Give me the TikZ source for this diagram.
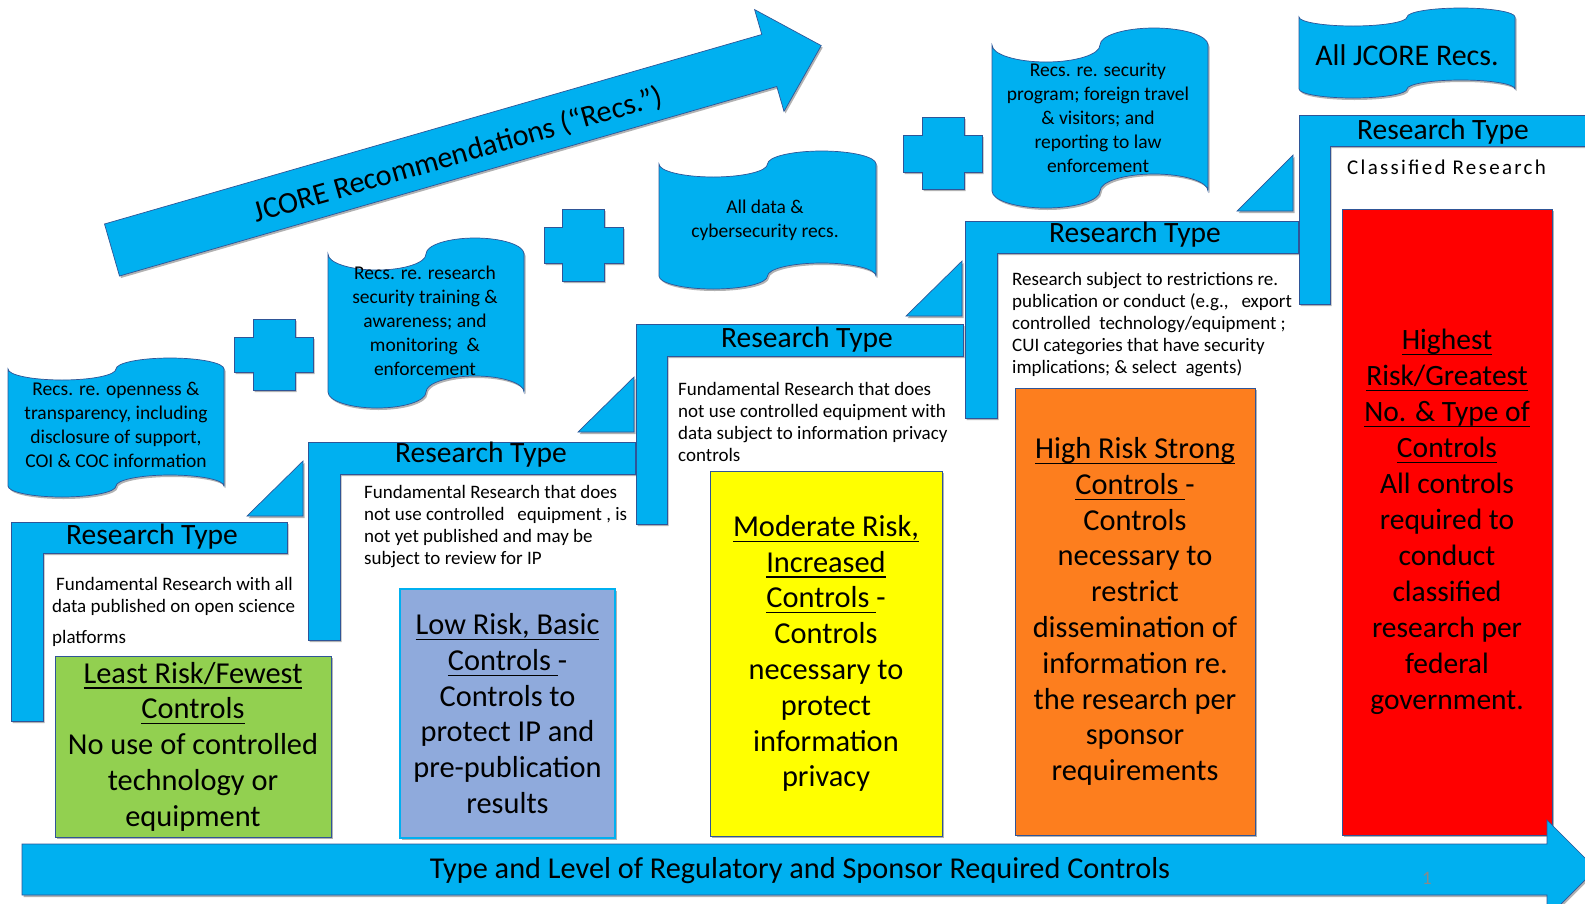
\documentclass[tikz,border=0pt]{standalone}
\usepackage{fontspec}
\setmainfont{Carlito}
\usetikzlibrary{shadows}
\definecolor{jblue}{RGB}{0,176,240}
\definecolor{jedge}{RGB}{47,85,151}
\definecolor{jgreen}{RGB}{146,208,80}
\definecolor{jlav}{RGB}{143,170,220}
\definecolor{jyellow}{RGB}{255,255,0}
\definecolor{jorange}{RGB}{253,126,30}
\definecolor{jred}{RGB}{255,0,0}
\definecolor{jgray}{RGB}{137,137,137}
\newcommand{\fbig}{\fontsize{29.5}{36}\selectfont}
\newcommand{\fcbox}{\fontsize{30.4}{35.8}\selectfont}
\newcommand{\fdesc}{\fontsize{19}{22}\selectfont}
\newcommand{\fscroll}{\fontsize{19.5}{24}\selectfont}
\newsavebox{\julbox}
\newcommand{\jul}[1]{\sbox{\julbox}{#1}\rlap{\rule[-5.5pt]{\wd\julbox}{1.2pt}}\usebox{\julbox}}
\tikzset{
  bshape/.style={fill=jblue, draw=jedge, line width=0.7pt,
    drop shadow={shadow xshift=1.5pt, shadow yshift=-2pt, opacity=0.3, fill=black}},
  cbox/.style={draw=jedge, line width=0.8pt, align=center, font=\fcbox, inner sep=0pt,
    drop shadow={shadow xshift=1.5pt, shadow yshift=-2pt, opacity=0.3, fill=black}},
  rtype/.style={font=\fbig, anchor=base, inner sep=0pt},
  desc/.style={font=\fdesc, align=left, anchor=base west, inner sep=0pt},
  scrolltext/.style={font=\fscroll, align=center, inner sep=0pt},
}
\newcommand{\jtape}[5]{%
  \draw[bshape] (#1,#2) arc[start angle=180,end angle=0,x radius={(#3-#1)/4},y radius=#5]
    arc[start angle=180,end angle=360,x radius={(#3-#1)/4},y radius=#5]
    -- (#3,#4) arc[start angle=360,end angle=180,x radius={(#3-#1)/4},y radius=#5]
    arc[start angle=0,end angle=180,x radius={(#3-#1)/4},y radius=#5] -- cycle;}
\newcommand{\jplus}[8]{%
  \draw[bshape] (#2,#5) -- (#3,#5) -- (#3,#6) -- (#4,#6) -- (#4,#7) -- (#3,#7) -- (#3,#8)
    -- (#2,#8) -- (#2,#7) -- (#1,#7) -- (#1,#6) -- (#2,#6) -- cycle;}
\begin{document}
\begin{tikzpicture}[x=1pt,y=-1pt]
\useasboundingbox (0,0) rectangle (1585,903);
\fill[white] (0,0) rectangle (1585,903);
\begin{scope}
\clip (0,0) rectangle (1585,903);
% JCORE arrow
\draw[bshape] (104.5,224) -- (761.8,34.5) -- (754.6,9.6) -- (821.2,45.6) -- (784,111.4)
  -- (776.8,86.5) -- (119.5,276) -- cycle;
\node[font=\fontsize{30.2}{36}\selectfont, rotate=16.05, inner sep=0pt] (jcore) at (458,155)
  {JCORE Recommendations (“Recs.”)};
% scrolls
\jtape{8}{369}{224}{486}{11}
\jtape{328}{254}{524}{392}{16}
\jtape{659}{164}{876}{276}{13}
\jtape{992}{45}{1208}{191}{17}
\jtape{1299}{17}{1515}{89}{9}
\node[scrolltext] (s1) at (116,425) {Recs. re. openness \&\\ transparency, including\\ disclosure of support,\\ COI \& COC information};
\node[scrolltext] (s2) at (425,321) {Recs. re. research\\ security training \&\\ awareness; and\\ monitoring\ \ \&\\ enforcement};
\node[scrolltext] (s3) at (765,220) {All data \&\\ cybersecurity recs.};
\node[scrolltext] (s4) at (1098,118) {Recs. re. security\\ program; foreign travel\\ \& visitors; and\\ reporting to law\\ enforcement};
\node[font=\fontsize{30}{36}\selectfont, inner sep=0pt] (s5) at (1407,55) {All JCORE Recs.};
% plus signs
\jplus{234}{253}{295}{313}{319}{337}{372}{390}
\jplus{544}{562}{604}{623}{209}{227}{263}{281}
\jplus{903}{922}{964}{982}{117}{135}{172}{189}
% steps
\draw[bshape] (11,522) -- (287,522) -- (287,553) -- (43,553) -- (43,721) -- (11,721) -- cycle;
\draw[bshape] (308,442) -- (635,442) -- (635,474) -- (340,474) -- (340,640) -- (308,640) -- cycle;
\draw[bshape] (636,324) -- (963,324) -- (963,356) -- (667,356) -- (667,524) -- (636,524) -- cycle;
\draw[bshape] (965,221) -- (1298,221) -- (1298,253) -- (997,253) -- (997,418) -- (965,418) -- cycle;
\draw[bshape] (1299,115) -- (1595,115) -- (1595,146) -- (1330,146) -- (1330,304) -- (1299,304) -- cycle;
% triangles
\draw[bshape] (303,461) -- (303,516) -- (247,516) -- cycle;
\draw[bshape] (634,377) -- (634,432) -- (578,432) -- cycle;
\draw[bshape] (962,261) -- (962,316) -- (906,316) -- cycle;
\draw[bshape] (1293,155) -- (1293,211) -- (1237,211) -- cycle;
% research type labels
\node[rtype] (rt1) at (152,544) {Research Type};
\node[rtype] (rt2) at (481,462) {Research Type};
\node[rtype] (rt3) at (807,347) {Research Type};
\node[rtype] (rt4) at (1135,242) {Research Type};
\node[rtype] (rt5) at (1443,139) {Research Type};
% descriptions (anchored at the baseline of their last line)
\node[desc] (d1) at (52,643) {\hspace{4pt}Fundamental Research with all\\ data published on open science\\[9pt] platforms};
\node[desc] (d2) at (364,564) {Fundamental Research that does\\ not use controlled\ \ \ equipment\ , is\\ not yet published and may be\\ subject to review for IP};
\node[desc] (d3) at (678,461) {Fundamental Research that does\\ not use controlled equipment with\\ data subject to information privacy\\ controls};
\node[desc] (d4) at (1012,373) {Research subject to restrictions re.\\ publication or conduct (e.g.,\ \ \ export\\ controlled\ \ technology/equipment\ ;\\ CUI categories that have security\\ implications; \& select\ \ agents)};
\node[desc, font=\fontsize{21}{24}\selectfont\addfontfeatures{LetterSpace=11}] (d5) at (1347,174) {Classified Research};
% coloured boxes
\node[cbox, fill=jgreen, minimum width=276, minimum height=181] (b1) at (193,746.5)
  {\jul{Least Risk/Fewest}\\ \jul{Controls}\\ No use of controlled\\ technology or\\ equipment};
\node[cbox, fill=jlav, draw=jblue, line width=1.4pt, minimum width=215, minimum height=249] (b2) at (507.5,713.5)
  {\jul{Low Risk, Basic}\\ \jul{Controls\ }-\\ Controls to\\ protect IP and\\ pre-publication\\ results};
\node[cbox, fill=jyellow, minimum width=232, minimum height=365] (b3) at (826,653.5)
  {\jul{Moderate Risk,}\\ \jul{Increased}\\ \jul{Controls\ }-\\ Controls\\ necessary to\\ protect\\ information\\ privacy};
\node[cbox, fill=jorange, minimum width=240, minimum height=447] (b4) at (1135,611.5)
  {\jul{High Risk Strong}\\ \jul{Controls\ }-\\ Controls\\ necessary to\\ restrict\\ dissemination of\\ information re.\\ the research per\\ sponsor\\ requirements};
\node[cbox, font=\fbig, fill=jred, minimum width=210, minimum height=626] (b5) at (1447,522)
  {\jul{Highest}\\ \jul{Risk/Greatest}\\ \jul{No. \& Type of}\\ \jul{Controls}\\ All controls\\ required to\\ conduct\\ classified\\ research per\\ federal\\ government.};
% bottom arrow
\draw[bshape] (22,844) -- (1547,844) -- (1547,820) -- (1596,869) -- (1547,918) -- (1547,895) -- (22,895) -- cycle;
\node[font=\fontsize{30.3}{36}\selectfont, anchor=base, inner sep=0pt] (axis) at (800,878) {Type and Level of Regulatory and Sponsor Required Controls};
\node[font=\fontsize{19}{22}\selectfont, text=jgray, inner sep=0pt] (pg) at (1427,878) {1};
\end{scope}
\end{tikzpicture}
\end{document}
